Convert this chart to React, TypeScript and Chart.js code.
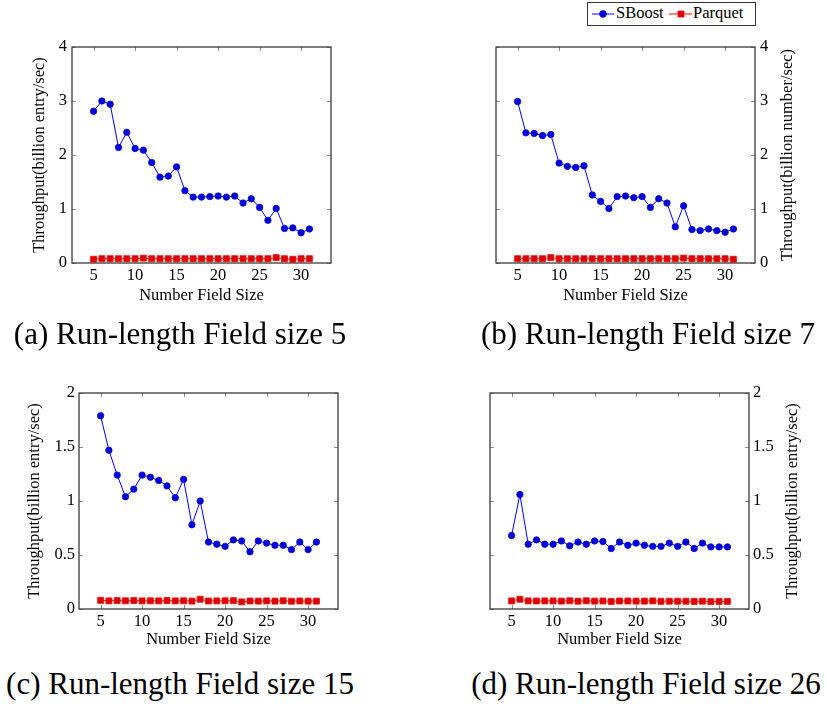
import React, { useEffect, useRef } from "react";
import { Chart, registerables } from "chart.js";

Chart.register(...registerables);

// ---------- data ----------
const fieldSizes = [5, 6, 7, 8, 9, 10, 11, 12, 13, 14, 15, 16, 17, 18, 19, 20, 21, 22, 23, 24, 25, 26, 27, 28, 29, 30, 31];
const xTickValues = [5, 10, 15, 20, 25, 30];
const yTicksTop = [0, 1, 2, 3, 4];
const yTicksBottom = [0, 0.5, 1, 1.5, 2];
const seriesNames = ["SBoost", "Parquet"];

const sboostA = [2.81, 3.0, 2.94, 2.14, 2.42, 2.12, 2.09, 1.86, 1.59, 1.61, 1.78, 1.34, 1.22, 1.22, 1.23, 1.24, 1.22, 1.24, 1.11, 1.19, 1.03, 0.79, 1.01, 0.64, 0.65, 0.56, 0.63];
const parquetA = [0.07, 0.08, 0.08, 0.08, 0.08, 0.08, 0.09, 0.08, 0.08, 0.08, 0.08, 0.08, 0.08, 0.08, 0.08, 0.08, 0.08, 0.08, 0.08, 0.08, 0.08, 0.08, 0.1, 0.08, 0.07, 0.08, 0.08];

const sboostB = [2.99, 2.41, 2.4, 2.36, 2.38, 1.85, 1.79, 1.77, 1.8, 1.26, 1.14, 1.01, 1.23, 1.24, 1.21, 1.23, 1.03, 1.19, 1.11, 0.67, 1.06, 0.62, 0.6, 0.63, 0.6, 0.57, 0.63];
const parquetB = [0.08, 0.08, 0.08, 0.08, 0.1, 0.08, 0.08, 0.08, 0.08, 0.08, 0.08, 0.08, 0.08, 0.08, 0.08, 0.08, 0.08, 0.08, 0.08, 0.08, 0.09, 0.08, 0.08, 0.08, 0.08, 0.08, 0.07];

const sboostC = [1.79, 1.47, 1.24, 1.04, 1.11, 1.24, 1.22, 1.19, 1.14, 1.03, 1.2, 0.78, 1.0, 0.62, 0.6, 0.58, 0.64, 0.63, 0.53, 0.63, 0.61, 0.59, 0.59, 0.55, 0.62, 0.55, 0.62];
const parquetC = [0.08, 0.075, 0.078, 0.076, 0.078, 0.075, 0.076, 0.075, 0.078, 0.075, 0.076, 0.073, 0.09, 0.074, 0.075, 0.076, 0.077, 0.066, 0.074, 0.073, 0.075, 0.073, 0.076, 0.072, 0.074, 0.073, 0.073];

const sboostD = [0.68, 1.06, 0.6, 0.64, 0.6, 0.6, 0.63, 0.585, 0.62, 0.6, 0.63, 0.625, 0.56, 0.62, 0.59, 0.61, 0.59, 0.58, 0.58, 0.61, 0.58, 0.62, 0.56, 0.61, 0.575, 0.575, 0.575];
const parquetD = [0.075, 0.09, 0.075, 0.074, 0.075, 0.075, 0.073, 0.076, 0.072, 0.076, 0.073, 0.074, 0.07, 0.074, 0.074, 0.073, 0.073, 0.075, 0.071, 0.072, 0.072, 0.072, 0.07, 0.072, 0.068, 0.07, 0.07];

const xTitle = "Number Field Size";
const yTitleEntry = "Throughput(billion entry/sec)";
const yTitleNumber = "Throughput(billion number/sec)";
const captions = [
  "(a) Run-length Field size 5",
  "(b) Run-length Field size 7",
  "(c) Run-length Field size 15",
  "(d) Run-length Field size 26",
];

// ---------- styling ----------
const FONT = "'Liberation Serif', 'Times New Roman', serif";
const SMALL = 16.5;
const BLUE = "rgb(0,0,255)";
const BLUE_FILL = "rgb(0,0,204)";
const RED = "rgb(255,0,0)";
const RED_FILL = "rgb(214,0,0)";

type Spec = {
  left: number;
  top: number;
  width: number;
  height: number;
  area: { l: number; t: number; r: number; b: number };
  yPos: "left" | "right";
  yMax: number;
  yTicks: number[];
  yTitle: string;
  yTitleCenter: number;
  yTickPad: number;
  xTitleCenter: number;
  sboost: number[];
  parquet: number[];
};

const framePlugin = {
  id: "pgfFrame",
  beforeDatasetsDraw(chart: any) {
    const { ctx, chartArea } = chart;
    const { left, right, top, bottom } = chartArea;
    const xs = chart.scales.x;
    const ys = chart.scales.y;
    ctx.save();
    ctx.beginPath();
    ctx.strokeStyle = "#8c8c8c";
    ctx.lineWidth = 1;
    for (const t of xs.ticks) {
      const px = Math.round(xs.getPixelForValue(t.value)) + 0.5;
      ctx.moveTo(px, bottom);
      ctx.lineTo(px, bottom - 4);
      ctx.moveTo(px, top);
      ctx.lineTo(px, top + 4);
    }
    for (const t of ys.ticks) {
      const py = Math.round(ys.getPixelForValue(t.value)) + 0.5;
      ctx.moveTo(left, py);
      ctx.lineTo(left + 4, py);
      ctx.moveTo(right, py);
      ctx.lineTo(right - 4, py);
    }
    ctx.stroke();
    ctx.strokeStyle = "#3a3a3a";
    ctx.lineWidth = 1.3;
    ctx.strokeRect(left, top, right - left, bottom - top);
    ctx.restore();
  },
};

// Title for a right-hand y axis, read bottom-to-top like the left one
const sideTitlePlugin = {
  id: "sideTitle",
  afterDraw(chart: any, _args: any, opts: any) {
    if (!opts || !opts.text) return;
    const { ctx, chartArea } = chart;
    ctx.save();
    ctx.translate(opts.x, (chartArea.top + chartArea.bottom) / 2);
    ctx.rotate(-Math.PI / 2);
    ctx.font = `${SMALL}px ${FONT}`;
    ctx.fillStyle = "#000";
    ctx.textAlign = "center";
    ctx.textBaseline = "middle";
    ctx.fillText(opts.text, 0, 0);
    ctx.restore();
  },
};

function Plot({ spec }: { spec: Spec }) {
  const ref = useRef<HTMLCanvasElement | null>(null);
  useEffect(() => {
    const s = spec;
    const font = { family: FONT, size: SMALL };
    const lh = SMALL * 1.2;
    const isLeft = s.yPos === "left";
    const yW = isLeft ? s.area.l - s.left : s.left + s.width - s.area.r;
    const xH = s.top + s.height - s.area.b;
    const yTitleOffset = s.yTitleCenter - s.left;
    const xTitleOffset = s.top + s.height - s.xTitleCenter;
    const chart = new Chart(ref.current as HTMLCanvasElement, {
      type: "line",
      data: {
        datasets: [
          {
            label: seriesNames[0],
            data: fieldSizes.map((x, i) => ({ x, y: s.sboost[i] })),
            borderColor: BLUE,
            backgroundColor: BLUE_FILL,
            borderWidth: 1,
            pointStyle: "circle",
            pointRadius: 3.2,
            pointBorderWidth: 0.8,
            pointBorderColor: BLUE,
            pointBackgroundColor: BLUE_FILL,
            tension: 0,
          },
          {
            label: seriesNames[1],
            data: fieldSizes.map((x, i) => ({ x, y: s.parquet[i] })),
            borderColor: RED,
            backgroundColor: RED_FILL,
            borderWidth: 1,
            pointStyle: "rect",
            pointRadius: 4.2,
            pointBorderWidth: 0.8,
            pointBorderColor: RED,
            pointBackgroundColor: RED_FILL,
            tension: 0,
          },
        ],
      },
      options: {
        animation: false,
        responsive: false,
        devicePixelRatio: 1,
        layout: {
          padding: {
            top: s.area.t - s.top,
            bottom: 0,
            left: isLeft ? 0 : s.area.l - s.left,
            right: isLeft ? s.left + s.width - s.area.r : 0,
          },
        },
        plugins: {
          legend: { display: false },
          tooltip: { enabled: false },
          sideTitle: isLeft ? { text: "" } : { text: s.yTitle, x: yTitleOffset },
        },
        scales: {
          x: {
            type: "linear",
            position: "bottom",
            min: 2.4,
            max: 33.6,
            afterBuildTicks: (sc: any) => {
              sc.ticks = xTickValues.map((v) => ({ value: v }));
            },
            afterFit: (sc: any) => {
              sc.height = xH;
            },
            grid: { display: false, drawTicks: false },
            border: { display: false },
            ticks: {
              padding: 3,
              font,
              color: "#000",
              maxRotation: 0,
              autoSkip: false,
              callback: (v: any) => String(v),
            },
            title: {
              display: true,
              text: xTitle,
              font,
              color: "#000",
              padding: { top: 0, bottom: xTitleOffset - lh / 2 },
            },
          },
          y: {
            type: "linear",
            position: s.yPos,
            min: 0,
            max: s.yMax,
            afterBuildTicks: (sc: any) => {
              sc.ticks = s.yTicks.map((v) => ({ value: v }));
            },
            afterFit: (sc: any) => {
              sc.width = yW;
            },
            grid: { display: false, drawTicks: false },
            border: { display: false },
            ticks: {
              padding: s.yTickPad,
              font,
              color: "#000",
              autoSkip: false,
              callback: (v: any) => String(v),
            },
            title: {
              display: isLeft,
              text: s.yTitle,
              font,
              color: "#000",
              padding: { top: yTitleOffset - lh / 2, bottom: 0 },
            },
          },
        },
      },
      plugins: [framePlugin, sideTitlePlugin],
    } as any);
    return () => chart.destroy();
  }, [spec]);
  return (
    <canvas
      ref={ref}
      width={spec.width}
      height={spec.height}
      style={{ position: "absolute", left: spec.left, top: spec.top, width: spec.width, height: spec.height }}
    />
  );
}

const specs: Spec[] = [
  {
    left: 0, top: 0, width: 413, height: 320,
    area: { l: 72, t: 47, r: 331, b: 263 },
    yPos: "left", yMax: 4, yTicks: yTicksTop, yTitle: yTitleEntry, yTitleCenter: 40, yTickPad: 5,
    xTitleCenter: 296, sboost: sboostA, parquet: parquetA,
  },
  {
    left: 413, top: 0, width: 414, height: 320,
    area: { l: 496, t: 47, r: 755, b: 263 },
    yPos: "right", yMax: 4, yTicks: yTicksTop, yTitle: yTitleNumber, yTitleCenter: 788, yTickPad: 5,
    xTitleCenter: 296, sboost: sboostB, parquet: parquetB,
  },
  {
    left: 0, top: 350, width: 413, height: 310,
    area: { l: 79, t: 393, r: 338, b: 609 },
    yPos: "left", yMax: 2, yTicks: yTicksBottom, yTitle: yTitleEntry, yTitleCenter: 35, yTickPad: 4,
    xTitleCenter: 640, sboost: sboostC, parquet: parquetC,
  },
  {
    left: 413, top: 350, width: 414, height: 310,
    area: { l: 490, t: 393, r: 749, b: 609 },
    yPos: "right", yMax: 2, yTicks: yTicksBottom, yTitle: yTitleEntry, yTitleCenter: 793, yTickPad: 4,
    xTitleCenter: 640, sboost: sboostD, parquet: parquetD,
  },
];

const captionPos = [
  { cx: 180, top: 318 },
  { cx: 648, top: 318 },
  { cx: 180, top: 668 },
  { cx: 646, top: 668 },
];

function Legend() {
  const textStyle: React.CSSProperties = {
    position: "absolute",
    top: 5,
    fontFamily: FONT,
    fontSize: SMALL,
    lineHeight: `${SMALL}px`,
    color: "#000",
    whiteSpace: "nowrap",
  };
  return (
    <>
      <div
        style={{
          position: "absolute",
          left: 587,
          top: 2,
          width: 169,
          height: 24,
          boxSizing: "border-box",
          border: "1px solid #333",
          background: "#fff",
        }}
      />
      <svg style={{ position: "absolute", left: 0, top: 0 }} width={827} height={30}>
        <line x1={592} y1={14} x2={614} y2={14} stroke={BLUE} strokeWidth={1} />
        <circle cx={603} cy={14} r={3.4} fill={BLUE_FILL} stroke={BLUE} strokeWidth={0.8} />
        <line x1={669} y1={14} x2={692} y2={14} stroke={RED} strokeWidth={1} />
        <rect x={678} y={11} width={6} height={6} fill={RED_FILL} stroke={RED} strokeWidth={0.8} />
      </svg>
      <span style={{ ...textStyle, left: 616 }}>{seriesNames[0]}</span>
      <span style={{ ...textStyle, left: 693 }}>{seriesNames[1]}</span>
    </>
  );
}

export default function App() {
  return (
    <div style={{ position: "absolute", left: 0, top: 0, width: 827, height: 704, background: "#fff", overflow: "hidden" }}>
      {specs.map((s, i) => (
        <Plot key={i} spec={s} />
      ))}
      <Legend />
      {captions.map((c, i) => (
        <div
          key={c}
          style={{
            position: "absolute",
            left: captionPos[i].cx - 200,
            top: captionPos[i].top,
            width: 400,
            textAlign: "center",
            fontFamily: FONT,
            fontSize: 31,
            lineHeight: "31px",
            color: "#000",
            whiteSpace: "nowrap",
          }}
        >
          {c}
        </div>
      ))}
    </div>
  );
}
